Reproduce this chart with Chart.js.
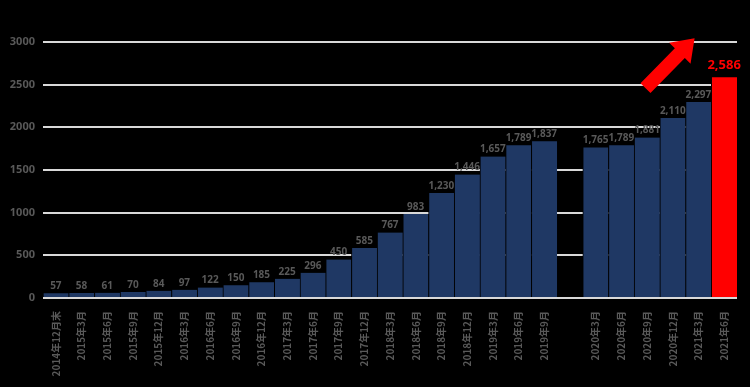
<!DOCTYPE html>
<html>
<head>
<meta charset="utf-8">
<script src="https://cdn.jsdelivr.net/npm/chart.js@4.4.1/dist/chart.umd.min.js"></script>
<style>
  html, body { margin: 0; padding: 0; background: #000; }
  canvas { display: block; }
</style>
</head>
<body>
<canvas id="growthChart" width="750" height="387"></canvas>
<script>
// data block
const categories = [
  "2014年12月末", "2015年3月", "2015年6月", "2015年9月", "2015年12月",
  "2016年3月", "2016年6月", "2016年9月", "2016年12月",
  "2017年3月", "2017年6月", "2017年9月", "2017年12月",
  "2018年3月", "2018年6月", "2018年9月", "2018年12月",
  "2019年3月", "2019年6月", "2019年9月",
  "",
  "2020年3月", "2020年6月", "2020年9月", "2020年12月", "2021年3月", "2021年6月"
];
const values = [
  57, 58, 61, 70, 84, 97, 122, 150, 185, 225,
  296, 450, 585, 767, 983, 1230, 1446, 1657, 1789, 1837,
  null,
  1765, 1789, 1881, 2110, 2297, 2586
];
const yTicks = [0, 500, 1000, 1500, 2000, 2500, 3000];

const navy = "#1f3864";
const red = "#ff0000";
const gray = "#595959";
const barColors = values.map((v, i) => (i === values.length - 1 ? red : navy));

// value labels above bars
const valueLabels = {
  id: "valueLabels",
  afterDatasetsDraw(chart) {
    const ctx = chart.ctx;
    const meta = chart.getDatasetMeta(0);
    ctx.save();
    ctx.textAlign = "center";
    ctx.textBaseline = "bottom";
    meta.data.forEach((bar, i) => {
      const v = values[i];
      if (v === null) return;
      const last = i === values.length - 1;
      ctx.font = last ? "bold 13px 'Noto Sans'" : "bold 10px 'Noto Sans'";
      ctx.fillStyle = last ? red : gray;
      ctx.fillText(v.toLocaleString("en-US"), bar.x, bar.y - (last ? 6 : 2));
    });
    ctx.restore();
  },
};

// red growth arrow
const growthArrow = {
  id: "growthArrow",
  afterDatasetsDraw(chart) {
    const x = chart.scales.x;
    const y = chart.scales.y;
    const x0 = x.getPixelForValue(22.94), y0 = y.getPixelForValue(2460);
    const x1 = x.getPixelForValue(24.85), y1 = y.getPixelForValue(3044);
    const len = Math.hypot(x1 - x0, y1 - y0);
    const dx = (x1 - x0) / len, dy = (y1 - y0) / len;
    const px = dy, py = -dx;
    const shaft = 7, head = 15, headLen = 21;
    const bx = x1 - dx * headLen, by = y1 - dy * headLen;
    const ctx = chart.ctx;
    ctx.save();
    ctx.fillStyle = red;
    ctx.beginPath();
    ctx.moveTo(x0 + px * shaft, y0 + py * shaft);
    ctx.lineTo(bx + px * shaft, by + py * shaft);
    ctx.lineTo(bx + px * head, by + py * head);
    ctx.lineTo(x1, y1);
    ctx.lineTo(bx - px * head, by - py * head);
    ctx.lineTo(bx - px * shaft, by - py * shaft);
    ctx.lineTo(x0 - px * shaft, y0 - py * shaft);
    ctx.closePath();
    ctx.fill();
    ctx.restore();
  },
};

const growthChart = new Chart(document.getElementById("growthChart"), {
  type: "bar",
  data: {
    labels: categories,
    datasets: [
      {
        data: values,
        backgroundColor: barColors,
        borderColor: "#000",
        borderWidth: { left: 1, right: 0, top: 0, bottom: 0 },
        borderSkipped: false,
        barPercentage: 1,
        categoryPercentage: 1,
      },
    ],
  },
  options: {
    responsive: false,
    animation: false,
    layout: { padding: { top: 42, right: 13, left: 0, bottom: 0 } },
    plugins: {
      legend: { display: false },
      tooltip: { enabled: false },
    },
    scales: {
      x: {
        grid: { display: false },
        border: { display: false },
        ticks: {
          color: gray,
          font: { family: "'Noto Sans CJK JP'", size: 10, weight: "bold" },
          minRotation: 90,
          maxRotation: 90,
          autoSkip: false,
          padding: 5,
        },
        afterFit(scale) {
          scale.height = 89;
        },
      },
      y: {
        min: 0,
        max: 3000,
        afterBuildTicks(scale) {
          scale.ticks = yTicks.map((v) => ({ value: v }));
        },
        grid: { color: "#d9d9d9", lineWidth: 2, drawTicks: false },
        border: { display: false },
        ticks: {
          color: gray,
          font: { family: "'Noto Sans'", size: 11, weight: "bold" },
          padding: 8,
          callback: (v) => String(v),
        },
        afterFit(scale) {
          scale.width = 43;
        },
      },
    },
  },
  plugins: [valueLabels, growthArrow],
});
</script>
</body>
</html>
